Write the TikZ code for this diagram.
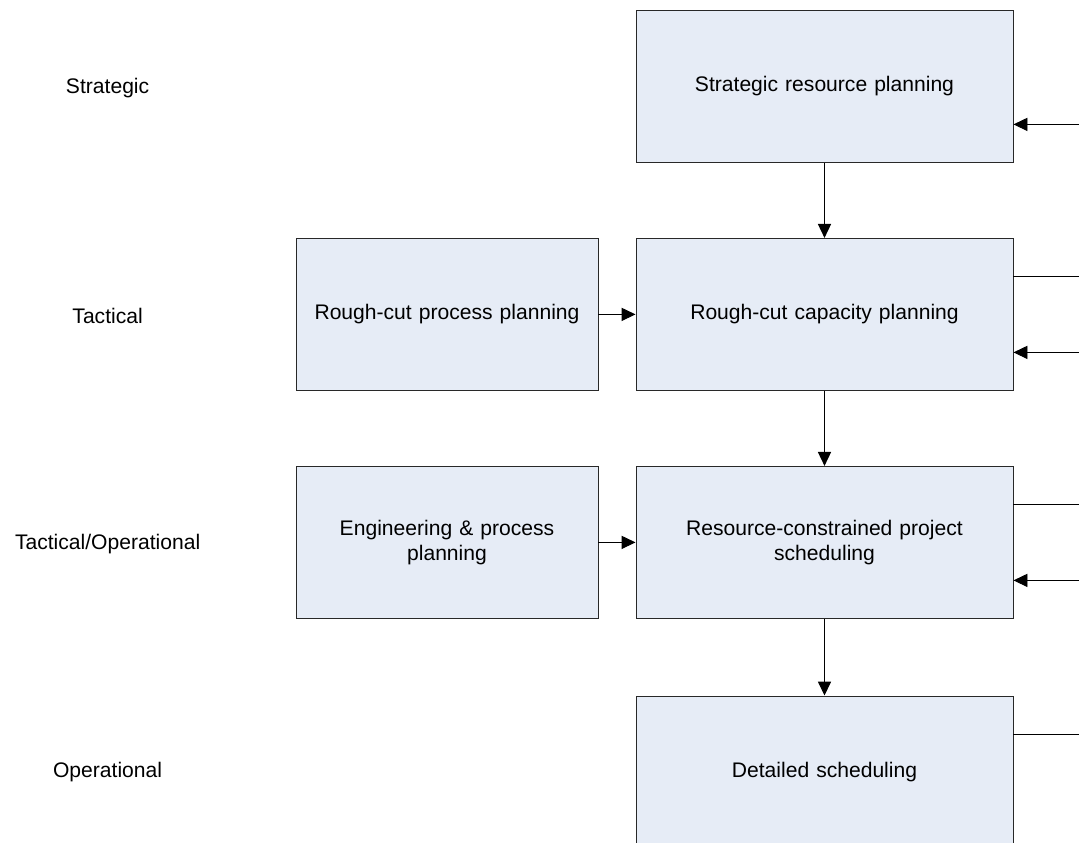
\documentclass[tikz,border=0pt]{standalone}
\usepackage{fontspec}
\setmainfont{Liberation Sans}
\usetikzlibrary{arrows.meta,calc}
\definecolor{boxfill}{RGB}{230,236,246}
\definecolor{boxline}{RGB}{40,40,40}
\tikzset{
  level/.style={font=\fontsize{15}{17.7}\selectfont},
  planbox/.style={draw=boxline, line width=0.7pt, fill=boxfill, minimum height=3.8cm,
    align=center, font=\fontsize{15}{17.7}\selectfont, inner sep=0pt},
  widebox/.style={planbox, minimum width=9.425cm, text width=9cm},
  narrowbox/.style={planbox, minimum width=7.55cm, text width=7.2cm},
  flow/.style={line width=0.7pt, -{Triangle[length=0.35cm,width=0.33cm]}}
}
\begin{document}
\begin{tikzpicture}
  \useasboundingbox (0,0) rectangle (26.975,-21.075);
  \clip (0,0) rectangle (26.975,-21.075);
  % planning levels on the left
  \node[level] (lstrat) at (2.69,-2.2) {Strategic};
  \node[level] (ltact) at (2.69,-7.9) {Tactical};
  \node[level] (ltacop) at (2.69,-13.6) {Tactical/Operational};
  \node[level] (loper) at (2.69,-19.3) {Operational};
  % main column
  \node[widebox] (srp) at (20.6125,-2.16) {Strategic resource planning};
  \node[widebox] (rccp) at (20.6125,-7.86) {Rough-cut capacity planning};
  \node[widebox] (rcps) at (20.6125,-13.56) {Resource-constrained project\\scheduling};
  \node[widebox] (dsch) at (20.6125,-19.3) {Detailed scheduling};
  % side boxes
  \node[narrowbox] (rcpp) at (11.175,-7.86) {Rough-cut process planning};
  \node[narrowbox] (epp) at (11.175,-13.56) {Engineering \& process\\planning};
  % downward flow
  \draw[flow] (srp) -- (rccp);
  \draw[flow] (rccp) -- (rcps);
  \draw[flow] (rcps) -- (dsch);
  \draw[flow] (rcpp) -- (rccp);
  \draw[flow] (epp) -- (rcps);
  % feedback lines at the right edge
  \coordinate (srpin) at ($(srp.east)+(2,-0.95)$);
  \coordinate (rccpout) at ($(rccp.east)+(2,0.95)$);
  \coordinate (rccpin) at ($(rccp.east)+(2,-0.95)$);
  \coordinate (rcpsout) at ($(rcps.east)+(2,0.95)$);
  \coordinate (rcpsin) at ($(rcps.east)+(2,-0.95)$);
  \coordinate (dschout) at ($(dsch.east)+(2,0.95)$);
  \draw[flow] (srpin) -- (srpin -| srp.east);
  \draw[line width=0.7pt] (rccpout -| rccp.east) -- (rccpout);
  \draw[flow] (rccpin) -- (rccpin -| rccp.east);
  \draw[line width=0.7pt] (rcpsout -| rcps.east) -- (rcpsout);
  \draw[flow] (rcpsin) -- (rcpsin -| rcps.east);
  \draw[line width=0.7pt] (dschout -| dsch.east) -- (dschout);
\end{tikzpicture}
\end{document}
